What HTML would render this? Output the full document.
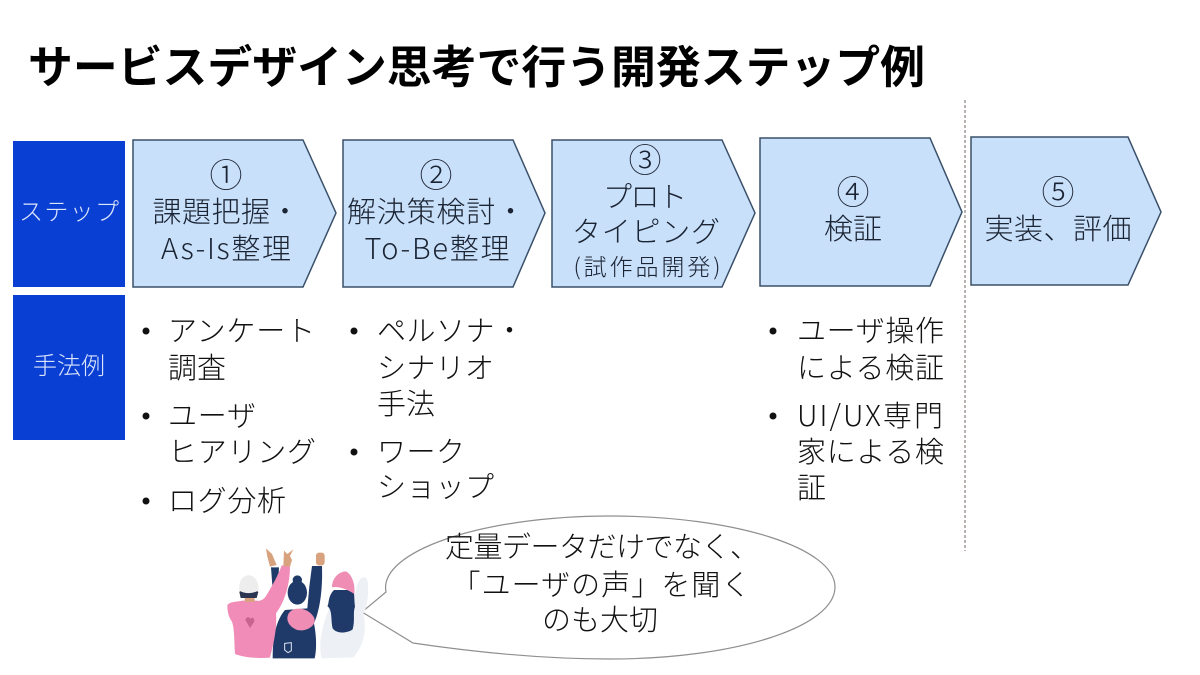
<!DOCTYPE html>
<html lang="ja"><head><meta charset="utf-8">
<style>
html,body{margin:0;padding:0;background:#fff;width:1200px;height:675px;overflow:hidden}
svg{display:block}
text{font-family:"Liberation Sans","Noto Sans CJK JP",sans-serif;fill:#1a1a1a;font-weight:300;font-size:29px}
.c{text-anchor:middle;fill:#1b2433}
.n{font-size:33px}
.l{font-family:"Noto Sans CJK JP","Liberation Sans",sans-serif}
.t{font-weight:700;font-size:45px;fill:#000}
.w{fill:#dbe6fb;font-size:24px;text-anchor:middle}
.b{fill:#111}
</style></head><body>
<svg width="1200" height="675" viewBox="0 0 1200 675" xmlns="http://www.w3.org/2000/svg">
<rect width="1200" height="675" fill="#fff"/>
<text class="t" x="28" y="83" textLength="897" lengthAdjust="spacingAndGlyphs">サービスデザイン思考で行う開発ステップ例</text>

<line x1="965" y1="100" x2="965" y2="551" stroke="#a09a96" stroke-width="1.5" stroke-dasharray="3 2"/>

<rect x="13" y="141" width="112" height="146" fill="#0a3fd3"/>
<rect x="13" y="295" width="112" height="145" fill="#0a3fd3"/>
<text class="w" x="69" y="220" textLength="100">ステップ</text>
<text class="w" x="69" y="374" textLength="72">手法例</text>

<g fill="#c9e0fb" stroke="#3a5069" stroke-width="1.5">
<polygon points="133,140 303,140 336,213 303,287 133,287"/>
<polygon points="343,140 513,140 545,213 513,287 343,287"/>
<polygon points="552,140 722,140 755,213 722,287 552,287"/>
<polygon points="760,138 930,138 962,212 930,286 760,286"/>
<polygon points="971,137 1128,137 1161,212 1128,285 971,285"/>
</g>

<text class="c n" x="226" y="187">①</text>
<text class="c" x="226" y="222" textLength="147">課題把握・</text>
<text class="c l" x="226" y="259" textLength="130">As-Is整理</text>

<text class="c n" x="436" y="187">②</text>
<text class="c" x="436" y="222" textLength="178">解決策検討・</text>
<text class="c l" x="437" y="259" textLength="145">To-Be整理</text>

<text class="c n" x="645" y="172">③</text>
<text class="c" x="645" y="207" textLength="84">プロト</text>
<text class="c" x="646" y="242" textLength="148">タイピング</text>
<text class="c l" x="647" y="275" textLength="147" style="font-size:23px">(試作品開発)</text>

<text class="c n" x="853" y="204">④</text>
<text class="c" x="853" y="239" textLength="58">検証</text>

<text class="c n" x="1058" y="204">⑤</text>
<text class="c" x="1058" y="239" textLength="147">実装、評価</text>

<g fill="#111">
<circle cx="146" cy="331" r="3.5"/><circle cx="146" cy="416" r="3.5"/><circle cx="146" cy="501" r="3.5"/>
<circle cx="354" cy="331" r="3.5"/><circle cx="354" cy="452" r="3.5"/>
<circle cx="773" cy="331" r="3.5"/><circle cx="773" cy="416" r="3.5"/>
</g>

<text class="b" x="168" y="341" textLength="147">アンケート</text>
<text class="b" x="168" y="378" textLength="58">調査</text>
<text class="b" x="168" y="426" textLength="88">ユーザ</text>
<text class="b" x="168" y="462" textLength="148">ヒアリング</text>
<text class="b" x="168" y="511" textLength="118">ログ分析</text>

<text class="b" x="377" y="341" textLength="147">ペルソナ・</text>
<text class="b" x="377" y="378" textLength="117">シナリオ</text>
<text class="b" x="377" y="414" textLength="58">手法</text>
<text class="b" x="377" y="462" textLength="88">ワーク</text>
<text class="b" x="377" y="497" textLength="117">ショップ</text>

<text class="b" x="797" y="341" textLength="147">ユーザ操作</text>
<text class="b" x="797" y="378" textLength="147">による検証</text>
<text class="b l" x="797" y="426" textLength="146">UI/UX専門</text>
<text class="b" x="797" y="462" textLength="147">家による検</text>
<text class="b" x="797" y="498" textLength="29">証</text>

<path d="M386,592 C378,552 480,516 610,516 C735,516 835,548 835,587 C835,627 735,659 610,659 C530,659 460,650 413,643 L362,612 Z" fill="#fff" stroke="#8f8f8f" stroke-width="1.2"/>
<text class="c" x="602" y="557" style="fill:#111" textLength="314">定量データだけでなく、</text>
<text class="c" x="601" y="595" style="fill:#111" textLength="299">「ユーザの声」を聞く</text>
<text class="c" x="600" y="630" style="fill:#111" textLength="116">のも大切</text>

<g transform="translate(210,530) scale(0.3333)">
<path d="M335,385 C325,340 335,300 350,255 L362,225 L432,205 L440,170 C448,140 470,130 474,160 C476,200 470,240 460,250 C472,300 460,350 430,382 Z" fill="#edf0f4"/>
<path d="M372,180 C352,200 358,225 352,228 C368,240 362,270 368,295 C380,312 412,310 428,298 C436,270 428,250 435,230 C432,205 434,190 430,180 Z" fill="#1f3a68"/>
<path d="M366,172 C366,145 385,125 408,124 C428,135 436,165 433,192 C412,178 385,168 366,172 Z" fill="#ef8db5"/>
<path d="M183,112 L207,112 L204,170 L190,205 Z" fill="#1f3a68"/>
<path d="M188,385 C188,330 195,275 225,240 L292,235 L298,170 L306,108 L336,108 C338,170 332,235 312,280 C320,320 320,360 314,385 Z" fill="#1f3a68"/>
<ellipse cx="262" cy="188" rx="29" ry="36" fill="#1f3a68"/><circle cx="262" cy="150" r="14" fill="#1f3a68"/>
<path d="M233,258 C240,228 292,228 312,262 C322,285 292,306 262,300 C245,294 228,278 233,258 Z" fill="#ef8db5"/>
<path d="M224,340 L244,338 L244,362 L234,368 L224,360 Z" fill="none" stroke="#dfe6f2" stroke-width="3"/>
<path d="M52,225 C62,214 80,216 98,212 L140,212 C150,214 160,210 168,198 C185,170 205,135 215,106 L240,110 C240,160 225,215 198,250 C202,300 188,350 180,383 C140,386 100,382 75,372 C72,330 74,300 66,275 C56,262 52,245 52,225 Z" fill="#f08cb7"/>
<path d="M106,270 C110,258 120,260 120,268 C124,260 136,262 132,276 L120,294 Z" fill="#c9628f"/>
<rect x="104" y="200" width="30" height="16" fill="#d9a27f"/>
<path d="M88,186 C92,178 140,178 145,186 L140,204 L92,204 Z" fill="#2c3550"/>
<path d="M88,168 C90,128 138,122 145,168 L145,182 C125,192 105,192 88,182 Z" fill="#ededed"/>
<path d="M168,55 L186,72 L200,105 L180,110 L172,80 Z M220,108 L222,62 L232,72 L250,58 L240,78 L246,90 L240,110 Z" fill="#d9a27f"/>
<rect x="318" y="68" width="26" height="38" rx="9" fill="#d9a27f"/>
</g>
</svg>
</body></html>
